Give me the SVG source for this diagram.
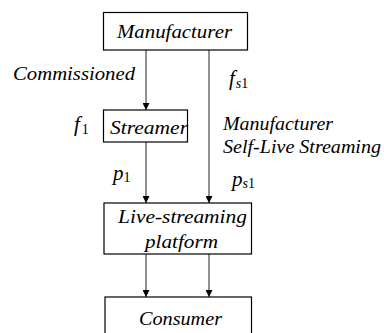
<svg xmlns="http://www.w3.org/2000/svg" width="384" height="333" viewBox="0 0 384 333">
<style>
.box{fill:#fff;stroke:#000;stroke-width:1.2}
.t{font-family:'Liberation Serif','Times New Roman',serif;font-style:italic;font-size:19px;fill:#000}
.m{font-family:'Liberation Serif','Times New Roman',serif;font-style:italic;font-size:21px;fill:#000}
.sub{font-size:14px}
.up{font-style:normal}
.ln{stroke:#222;stroke-width:1;fill:none;marker-end:url(#ah)}
</style>
<defs>
<marker id="ah" markerUnits="userSpaceOnUse" markerWidth="7" markerHeight="7" refX="7" refY="3.5" orient="auto">
<path d="M0,0 L7,3.5 L0,7 z" fill="#000"/>
</marker>
</defs>
<rect width="384" height="333" fill="#fff"/>
<g id="connectors">
<line class="ln" x1="146" y1="50" x2="146" y2="110"/>
<line class="ln" x1="209" y1="50" x2="209" y2="203"/>
<line class="ln" x1="146" y1="142" x2="146" y2="203"/>
<line class="ln" x1="146" y1="254" x2="146" y2="297"/>
<line class="ln" x1="209" y1="254" x2="209" y2="297"/>
</g>
<g id="manufacturer">
<rect class="box" x="103.5" y="12.5" width="144" height="37.5"/>
<text class="t" x="117" y="38" textLength="115" lengthAdjust="spacingAndGlyphs">Manufacturer</text>
</g>
<g id="streamer">
<rect class="box" x="103.5" y="110" width="84" height="32"/>
<text class="t" x="110" y="134" textLength="78" lengthAdjust="spacingAndGlyphs">Streamer</text>
</g>
<g id="platform">
<rect class="box" x="104" y="203" width="147.5" height="51"/>
<text class="t" x="118" y="223" textLength="129" lengthAdjust="spacingAndGlyphs">Live-streaming</text>
<text class="t" x="145" y="248" textLength="73" lengthAdjust="spacingAndGlyphs">platform</text>
</g>
<g id="consumer">
<rect class="box" x="105" y="297" width="146.5" height="50"/>
<text class="t" x="139" y="325" textLength="83" lengthAdjust="spacingAndGlyphs">Consumer</text>
</g>
<g id="labels">
<text class="t" x="13" y="80" textLength="122" lengthAdjust="spacingAndGlyphs">Commissioned</text>
<text class="m" x="229" y="85">f<tspan class="sub" dx="1" dy="3">s</tspan><tspan class="sub up">1</tspan></text>
<text class="m" x="74" y="131">f<tspan class="sub up" dx="2" dy="3">1</tspan></text>
<text class="t" x="223" y="130" textLength="110" lengthAdjust="spacingAndGlyphs">Manufacturer</text>
<text class="t" x="223" y="153" textLength="158" lengthAdjust="spacingAndGlyphs">Self-Live Streaming</text>
<text class="m" x="113" y="180">p<tspan class="sub up" dy="2">1</tspan></text>
<text class="m" x="232" y="186">p<tspan class="sub" dy="2">s</tspan><tspan class="sub up">1</tspan></text>
</g>
</svg>
